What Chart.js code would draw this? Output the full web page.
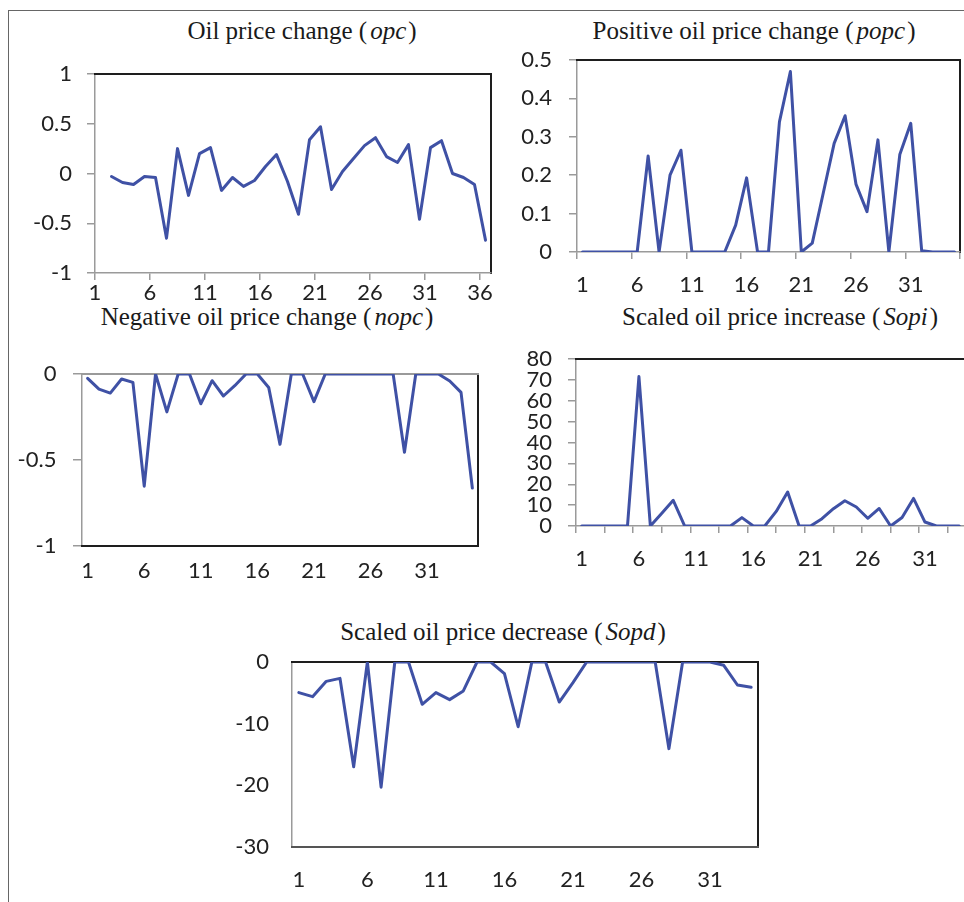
<!DOCTYPE html>
<html>
<head>
<meta charset="utf-8">
<script src="https://cdn.jsdelivr.net/npm/chart.js@4.4.1/dist/chart.umd.min.js"></script>
<style>
html,body{margin:0;padding:0;background:#fff;width:964px;height:902px;overflow:hidden;position:relative;}
#frame{position:absolute;left:8px;top:10px;width:1200px;height:1200px;border-left:1.5px solid #666;border-top:1.5px solid #666;}
.title{position:absolute;width:600px;text-align:center;font-family:"Liberation Serif","DejaVu Serif","Times New Roman",serif;font-size:25px;line-height:28px;color:#1a1a1a;white-space:nowrap;}
.title i{margin-left:3px;margin-right:2px;}
canvas{position:absolute;}
</style>
</head>
<body>
<div id="frame"></div>
<div class="title" style="left:2px;top:17px">Oil price change (<i>opc</i>)</div>
<div class="title" style="left:454px;top:17px">Positive oil price change (<i>popc</i>)</div>
<div class="title" style="left:-33px;top:303px">Negative oil price change (<i>nopc</i>)</div>
<div class="title" style="left:480px;top:303px">Scaled oil price increase (<i>Sopi</i>)</div>
<div class="title" style="left:203px;top:618px">Scaled oil price decrease (<i>Sopd</i>)</div>
<canvas id="cOpc"></canvas>
<canvas id="cPopc"></canvas>
<canvas id="cNopc"></canvas>
<canvas id="cSopi"></canvas>
<canvas id="cSopd"></canvas>
<script>
// ---------------- data ----------------
const periods35 = Array.from({length: 35}, (_, i) => i + 1);
const periods34 = Array.from({length: 34}, (_, i) => i + 1);

const opc = [-0.03, -0.09, -0.11, -0.03, -0.04, -0.65, 0.25, -0.22, 0.20, 0.26,
             -0.17, -0.04, -0.13, -0.07, 0.07, 0.19, -0.08, -0.41, 0.34, 0.47,
             -0.16, 0.02, 0.15, 0.28, 0.36, 0.17, 0.11, 0.29, -0.46, 0.26,
             0.33, 0.00, -0.04, -0.11, -0.67];
const popc = [0, 0, 0, 0, 0, 0, 0.25, 0, 0.20, 0.265,
              0, 0, 0, 0, 0.07, 0.193, 0, 0, 0.339, 0.47,
              0, 0.023, 0.153, 0.283, 0.355, 0.176, 0.105, 0.292, 0, 0.254,
              0.335, 0.003, 0, 0, 0];
const nopc = [-0.025, -0.088, -0.111, -0.029, -0.049, -0.652, 0, -0.22, 0, 0,
              -0.173, -0.039, -0.128, -0.068, 0, 0, -0.078, -0.409, 0, 0,
              -0.161, 0, 0, 0, 0, 0, 0, 0, -0.455, 0,
              0, 0, -0.041, -0.107, -0.663];
const sopi = [0, 0, 0, 0, 0, 71.6, 0, 6.1, 12.3, 0,
              0, 0, 0, 0, 4.0, 0, 0, 7.0, 16.3, 0,
              0, 3.5, 8.3, 12.1, 9.1, 3.7, 8.4, 0, 4.1, 13.2,
              1.9, 0, 0, 0];
const sopd = [-4.97, -5.62, -3.14, -2.65, -17.0, 0, -20.3, 0, 0, -6.86,
              -4.97, -6.1, -4.7, 0, 0, -1.89, -10.5, 0, 0, -6.49,
              -3.35, 0, 0, 0, 0, 0, 0, -14.05, 0, 0,
              0, -0.54, -3.73, -4.1];

// tick labels
const opcYTicks = [-1, -0.5, 0, 0.5, 1];
const popcYTicks = [0, 0.1, 0.2, 0.3, 0.4, 0.5];
const nopcYTicks = [-1, -0.5, 0];
const sopiYTicks = [0, 10, 20, 30, 40, 50, 60, 70, 80];
const sopdYTicks = [-30, -20, -10, 0];
const opcXLabels = [1, 6, 11, 16, 21, 26, 31, 36];
const xLabels = [1, 6, 11, 16, 21, 26, 31];

// ---------------- styling ----------------
const LINE = '#3f51a5', DARK = '#1e1e1e', GRAY = '#9a9a9a', TXT = '#222';
const tickFont = {family: 'Lato, "Open Sans", sans-serif', size: 22, lineHeight: 1};

function noPad(s) { s.paddingTop = 0; s.paddingBottom = 0; s.paddingLeft = 0; s.paddingRight = 0; }

function build(id, box, plot, spec) {
  const cv = document.getElementById(id);
  cv.width = box.w; cv.height = box.h;
  cv.style.left = box.x + 'px'; cv.style.top = box.y + 'px';
  cv.style.width = box.w + 'px'; cv.style.height = box.h + 'px';
  const leftW = plot.l - box.x, rightW = box.x + box.w - plot.r, topH = plot.t - box.y;
  const marksH = spec.markLen || 0;
  const labelH = box.y + box.h - plot.b - marksH;
  const scales = {};
  scales.y = {
    position: 'left', min: spec.yMin, max: spec.yMax,
    afterBuildTicks: s => { s.ticks = spec.yTicks.map(v => ({value: v})); },
    afterFit: s => { s.width = leftW; noPad(s); },
    border: {display: true, color: GRAY, width: 1.5},
    grid: {display: true, drawOnChartArea: false, drawTicks: spec.yTickLen > 0, tickLength: spec.yTickLen, color: GRAY, lineWidth: 1.5},
    ticks: {autoSkip: false, padding: spec.yPad, color: TXT, font: tickFont, callback: v => String(v)}
  };
  scales.yR = {
    position: 'right', min: 0, max: 1,
    afterFit: s => { s.width = rightW; noPad(s); },
    border: {display: true, color: DARK, width: 2},
    grid: {display: false, drawTicks: false}, ticks: {display: false}
  };
  scales.xT = {
    type: 'linear', position: 'top', min: 0, max: 1,
    afterFit: s => { s.height = topH; noPad(s); },
    border: {display: true, color: spec.topColor, width: 2},
    grid: {display: false, drawTicks: false}, ticks: {display: false}
  };
  if (marksH) {
    scales.xM = {
      type: 'linear', position: 'bottom', min: spec.xMin, max: spec.xMax,
      afterBuildTicks: s => { s.ticks = spec.xMarks.map(v => ({value: v})); },
      afterFit: s => { s.height = marksH; noPad(s); },
      border: {display: true, color: spec.bottomColor, width: 1.5},
      grid: {display: true, drawOnChartArea: false, drawTicks: true, tickLength: marksH, color: GRAY, lineWidth: 1.5},
      ticks: {display: false, autoSkip: false}
    };
  }
  scales.x = {
    type: 'linear', position: 'bottom', min: spec.xMin, max: spec.xMax,
    afterBuildTicks: s => { s.ticks = spec.xLabels.map(v => ({value: v})); },
    afterFit: s => { s.height = labelH; noPad(s); },
    border: {display: !marksH, color: spec.bottomColor, width: 2},
    grid: {display: false, drawTicks: false},
    ticks: {autoSkip: false, maxRotation: 0, padding: spec.xPad, color: TXT, font: tickFont, callback: v => String(v)}
  };
  return new Chart(cv, {
    type: 'line',
    data: {
      datasets: [{
        data: spec.xs.map((x, i) => ({x: x, y: spec.values[i]})),
        xAxisID: 'x', yAxisID: 'y',
        borderColor: LINE, borderWidth: 3, pointRadius: 0, tension: 0, fill: false,
        borderJoinStyle: 'round', borderCapStyle: 'round'
      }]
    },
    options: {
      responsive: false, animation: false, devicePixelRatio: 1,
      layout: {padding: 0},
      plugins: {legend: {display: false}, tooltip: {enabled: false}, title: {display: false}},
      scales: scales
    }
  });
}

// Oil price change: labels on tick marks, values plotted between them
build('cOpc', {x: 20, y: 55, w: 480, h: 255}, {l: 95, t: 74, r: 491, b: 273}, {
  xs: periods35.map(p => p + 1.5), values: opc,
  xMin: 1, xMax: 37, xLabels: opcXLabels, xMarks: opcXLabels, markLen: 7, xPad: 1.5,
  yMin: -1, yMax: 1, yTicks: opcYTicks, yTickLen: 8, yPad: 15,
  topColor: DARK, bottomColor: GRAY
});

build('cPopc', {x: 500, y: 45, w: 464, h: 265}, {l: 577, t: 60, r: 960, b: 252}, {
  xs: periods35, values: popc,
  xMin: 0.5, xMax: 35.5, xLabels: xLabels, xMarks: [0.5, 5.5, 10.5, 15.5, 20.5, 25.5, 30.5, 35.5], markLen: 7, xPad: 14.5,
  yMin: 0, yMax: 0.5, yTicks: popcYTicks, yTickLen: 8, yPad: 17,
  topColor: DARK, bottomColor: GRAY
});

build('cNopc', {x: 10, y: 355, w: 480, h: 235}, {l: 82, t: 374, r: 478, b: 546}, {
  xs: periods35, values: nopc,
  xMin: 0.5, xMax: 35.5, xLabels: xLabels, markLen: 0, xPad: 14,
  yMin: -1, yMax: 0, yTicks: nopcYTicks, yTickLen: 9, yPad: 16.5,
  topColor: GRAY, bottomColor: DARK
});

build('cSopi', {x: 500, y: 345, w: 470, h: 245}, {l: 576, t: 359, r: 965, b: 526}, {
  xs: periods34, values: sopi,
  xMin: 0.5, xMax: 34.5, xLabels: xLabels,
  xMarks: [0.5, 3, 5.5, 8, 10.5, 13, 15.5, 18, 20.5, 23, 25.5, 28, 30.5, 33], markLen: 7, xPad: 15,
  yMin: 0, yMax: 80, yTicks: sopiYTicks, yTickLen: 8, yPad: 16,
  topColor: DARK, bottomColor: GRAY
});

build('cSopd', {x: 200, y: 645, w: 570, h: 257}, {l: 292, t: 662, r: 758, b: 847}, {
  xs: periods34, values: sopd,
  xMin: 0.5, xMax: 34.5, xLabels: xLabels, markLen: 0, xPad: 21.5,
  yMin: -30, yMax: 0, yTicks: sopdYTicks, yTickLen: 0, yPad: 23,
  topColor: DARK, bottomColor: '#555'
});
</script>
</body>
</html>
